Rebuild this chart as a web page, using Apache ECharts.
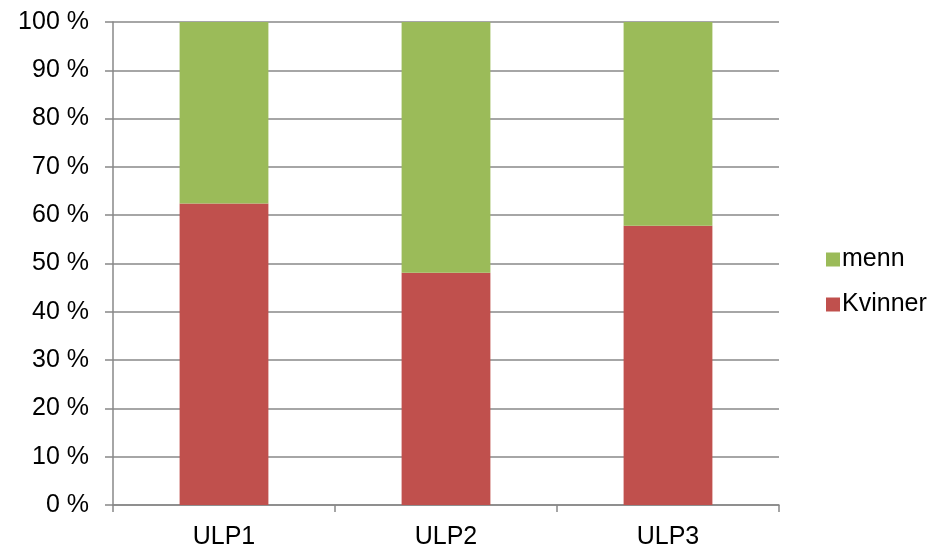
<!DOCTYPE html>
<html>
<head>
<meta charset="utf-8">
<script src="https://cdn.jsdelivr.net/npm/echarts@6/dist/echarts.min.js"></script>
<style>html,body{margin:0;padding:0;background:#fff}#c{width:934px;height:549px}</style>
</head>
<body>
<div id="c"></div>
<script>
const categories = ['ULP1', 'ULP2', 'ULP3'];
const kvinner = [62.4, 48.1, 57.8];
const menn = [37.6, 51.9, 42.2];
const yTicks = [0, 10, 20, 30, 40, 50, 60, 70, 80, 90, 100];

const chart = echarts.init(document.getElementById('c'));
const font = 'Liberation Sans, Arial, sans-serif';
chart.setOption({
  animation: false,
  grid: { left: 113, top: 22, right: 155, bottom: 44, containLabel: false, outerBoundsMode: 'none' },
  legend: {
    orient: 'vertical',
    left: 821, top: 242,
    itemWidth: 14, itemHeight: 14, itemGap: 20,
    icon: 'rect',
    data: ['menn', 'Kvinner'],
    textStyle: { fontFamily: font, fontSize: 25, lineHeight: 25, color: '#000', padding: [0, 0, 0, -3] }
  },
  xAxis: {
    type: 'category',
    data: categories,
    axisLine: { lineStyle: { color: '#888', width: 1.5 } },
    axisTick: { show: true, length: 7, lineStyle: { color: '#888', width: 1.5 } },
    axisLabel: { fontFamily: font, fontSize: 25, color: '#000', margin: 20 }
  },
  yAxis: {
    type: 'value',
    min: 0, max: 100, interval: 10,
    axisLine: { show: true, lineStyle: { color: '#888', width: 1.5 } },
    axisTick: { show: true, length: 8, lineStyle: { color: '#888', width: 1.5 } },
    splitLine: { lineStyle: { color: '#888', width: 1.5 } },
    axisLabel: { fontFamily: font, fontSize: 25, color: '#000', margin: 24,
      formatter: v => yTicks.includes(v) ? v + ' %' : '' }
  },
  series: [
    { name: 'Kvinner', type: 'bar', stack: 's', data: kvinner, barWidth: '40%',
      itemStyle: { color: '#C0504D' } },
    { name: 'menn', type: 'bar', stack: 's', data: menn, barWidth: '40%',
      itemStyle: { color: '#9BBB59' } }
  ]
});
</script>
</body>
</html>
